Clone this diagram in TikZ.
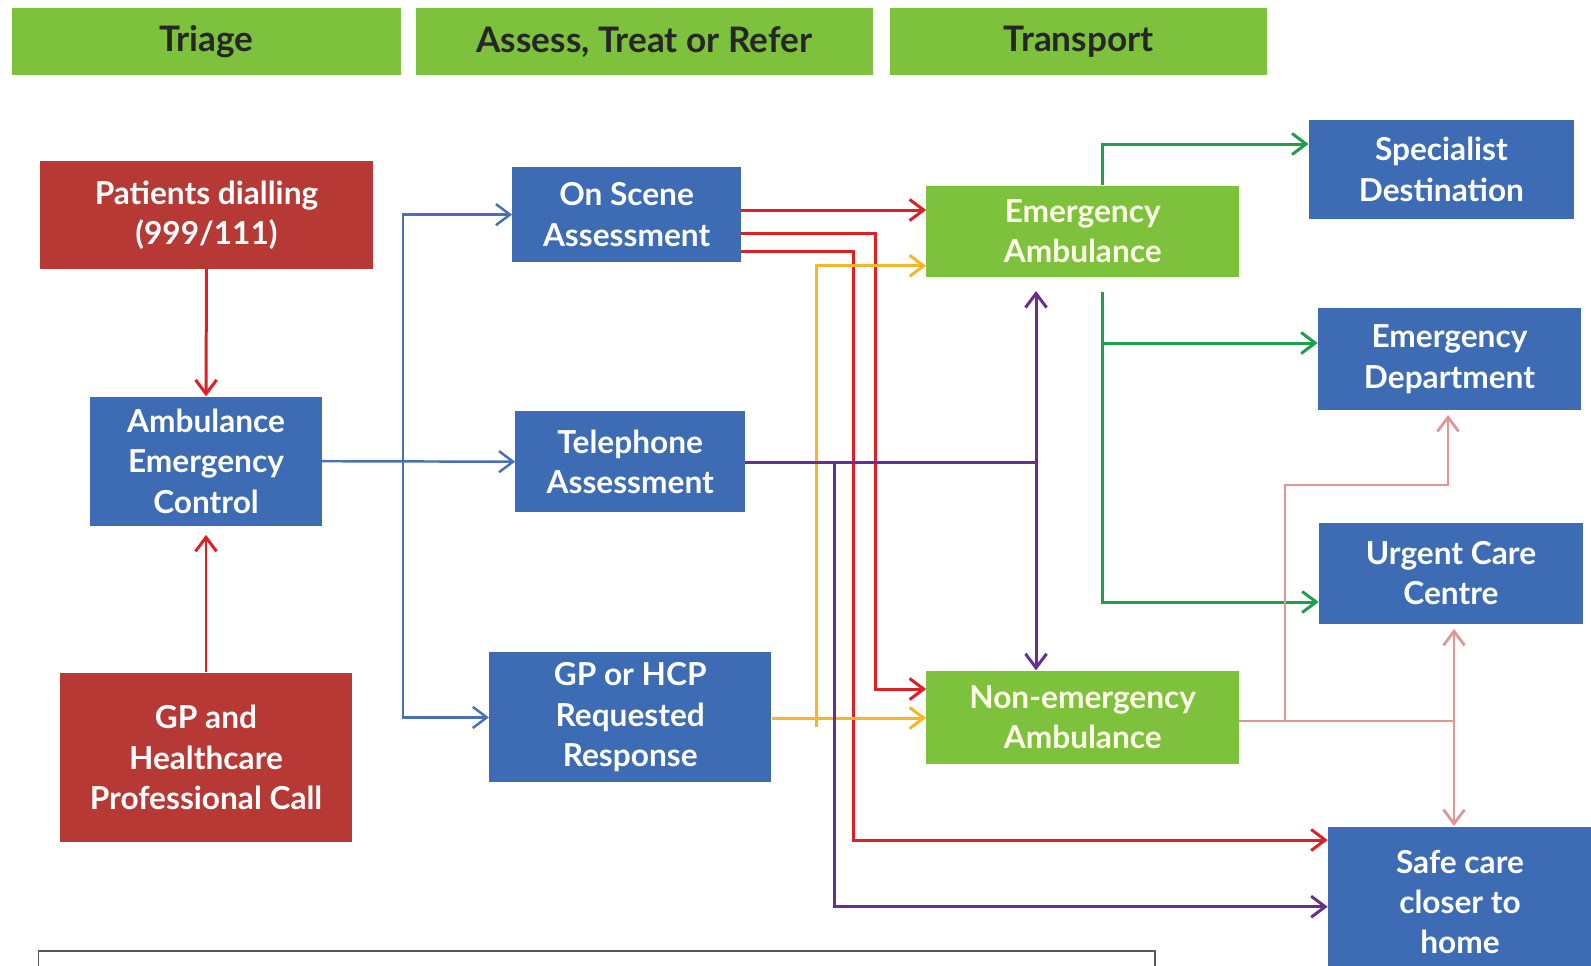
\documentclass[tikz,border=0pt]{standalone}
\usepackage{fontspec}
\setmainfont{Lato}
\usetikzlibrary{positioning}
\usetikzlibrary{arrows.meta}
\definecolor{hgreen}{RGB}{125,193,60}
\definecolor{nblue}{RGB}{61,108,180}
\definecolor{nred}{RGB}{183,57,53}
\definecolor{ared}{RGB}{222,32,36}
\definecolor{ablue}{RGB}{72,112,184}
\definecolor{aorange}{RGB}{246,182,40}
\definecolor{apurple}{RGB}{104,46,146}
\definecolor{agreen}{RGB}{32,158,76}
\definecolor{apink}{RGB}{222,150,150}
\tikzset{
    boxb/.style = {rectangle, fill=nblue, inner sep=0pt, align=center, text=white, font=\fontsize{18}{23}\selectfont\bfseries},
    boxr/.style = {rectangle, fill=nred, inner sep=0pt, align=center, text=white, font=\fontsize{18}{23}\selectfont\bfseries},
    boxg/.style = {rectangle, fill=hgreen, inner sep=0pt, align=center, text=white!92!yellow, font=\fontsize{18}{23}\selectfont\bfseries},
    hdr/.style = {rectangle, fill=hgreen, inner sep=0pt, minimum height=1.34cm, text=black!85, font=\fontsize{20}{24}\selectfont\bfseries},
    edger/.style = {->, line width=1.7pt, ared},
    edgeb/.style = {->, line width=1.4pt, ablue},
    edgeo/.style = {->, line width=1.7pt, aorange},
    edgep/.style = {->, line width=1.7pt, apurple},
    edgeg/.style = {->, line width=1.7pt, agreen},
    edgepk/.style = {->, line width=1.6pt, apink}, % to destinations
    >={Straight Barb[length=8pt,width=12pt]}
}

\begin{document}
\begin{tikzpicture}[x=0.02cm, y=-0.02cm]
  \fill[white] (0,0) rectangle (1591,965);
  \useasboundingbox (0,0) rectangle (1591,965);

  % stage headers
  \node[hdr, minimum width=7.77cm] (htri) at (206.5,41.6) {Triage};
  \node[hdr, minimum width=9.13cm] (hass) at (644.3,41.6) {Assess, Treat or Refer};
  \node[hdr, minimum width=7.55cm] (htra) at (1078.6,41.6) {Transport};

  % triage
  \node[boxr, minimum width=6.68cm, minimum height=2.15cm] (pat) at (206.5,215.1) {Patients dialling\\(999/111)};
  \node[boxb, minimum width=4.63cm, minimum height=2.58cm] (aec) at (206,461.2) {Ambulance\\Emergency\\Control};
  \node[boxr, minimum width=5.84cm, minimum height=3.39cm] (gpc) at (206,757.5) {GP and\\Healthcare\\Professional Call};

  % assess, treat or refer
  \node[boxb, minimum width=4.57cm, minimum height=1.89cm] (ons) at (626.6,214.6) {On Scene\\Assessment};
  \node[boxb, minimum width=4.59cm, minimum height=2.03cm] (tel) at (630.2,461.7) {Telephone\\Assessment};
  \node[boxb, minimum width=5.64cm, minimum height=2.60cm] (gpr) at (630.2,717.4) {GP or HCP\\Requested\\Response};

  % transport
  \node[boxg, minimum width=6.25cm, minimum height=1.83cm] (ea) at (1082.7,231.4) {Emergency\\Ambulance};
  \node[boxg, minimum width=6.25cm, minimum height=1.87cm] (nea) at (1082.7,717.4) {Non-emergency\\Ambulance};

  % destinations
  \node[boxb, minimum width=5.30cm, minimum height=1.99cm] (spec) at (1441.4,169.5) {Specialist\\Destination};
  \node[boxb, minimum width=5.26cm, minimum height=2.03cm] (ed) at (1449.5,359.2) {Emergency\\Department};
  \node[boxb, minimum width=5.28cm, minimum height=2.03cm] (ucc) at (1451,573.3) {Urgent Care\\Centre};
  \node[boxb, minimum width=5.28cm, minimum height=3.00cm] (safe) at (1460,902) {Safe care\\closer to\\home};

  \coordinate (bj) at (402.8,461.7);
  \coordinate (pj) at (1036,462.7);
  \coordinate (kj) at (1454,721);

  \draw[edger] (pat.south) -- (aec.north);
  \draw[edger] (gpc.north) -- ([yshift=-5pt]aec.south);

  \draw[edgeb] (aec.east) -- (tel.west);
  \draw[edgeb] (bj) |- (ons.west);
  \draw[edgeb] (bj) |- (gpr.west);

  \draw[edger] (ons.east |- 0,210) -- (ea.west |- 0,210);
  \draw[edger] (ons.east |- 0,233.4) -- (875.7,233.4) |- (nea.west |- 0,689);
  \draw[edger] (ons.east |- 0,251.5) -- (853.7,251.5) |- (safe.west |- 0,840);

  \draw[edgeo] (gpr.east |- 0,718) -- (nea.west |- 0,718);
  \draw[edgeo] (816.8,727) |- (ea.west |- 0,265.8);

  \draw[edgep,-] (tel.east |- 0,462.7) -- (pj);
  \draw[edgep,<->] (1036,291) -- (nea.north -| pj);
  \draw[edgep] (834.7,462.7) |- (safe.west |- 0,906.7);

  \draw[edgeg] (ea.north -| 1102,0) |- (spec.west |- 0,144);
  \draw[edgeg] (1102,292) |- (ucc.west |- 0,602);
  \draw[edgeg] (1102,343) -- (ed.west |- 0,343);

  \draw[edgepk,-] (nea.east |- kj) -- (kj);
  \draw[edgepk,<->] (1454,629) -- (1454,826);
  \draw[edgepk] (1285,721) |- (1448,485) -- (1448,415);

  \draw[gray!70!black, line width=1pt] (38.6,950.8) rectangle (1154.7,1000);
\end{tikzpicture}
\end{document}
